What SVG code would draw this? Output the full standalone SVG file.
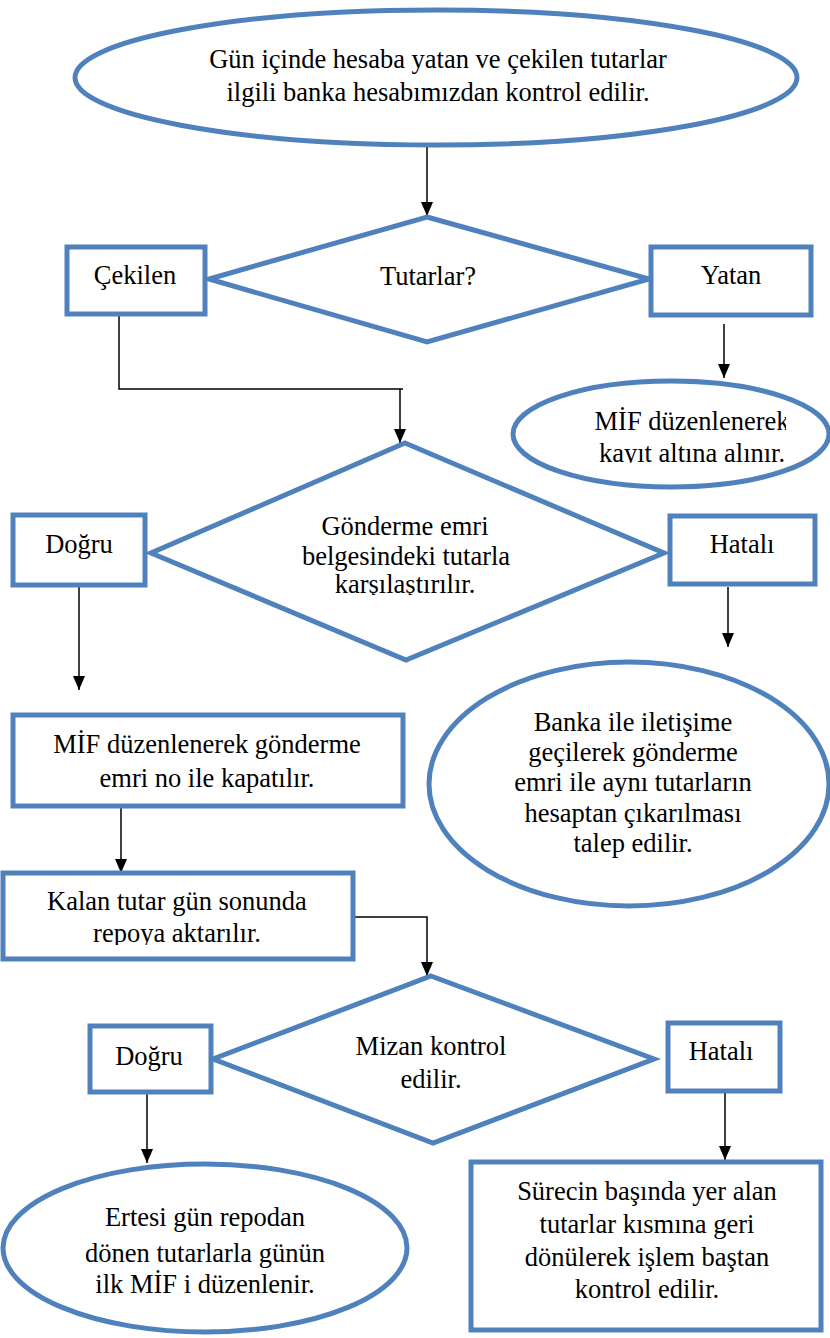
<svg xmlns="http://www.w3.org/2000/svg" width="830" height="1338" viewBox="0 0 830 1338">
<style>
.shape{fill:#fff;stroke:#4F81BD;stroke-width:5}
.t{font-size:26.5px;fill:#000;text-anchor:middle}
.c{fill:none;stroke:#000;stroke-width:1.5}
</style>
<defs>
<marker id="ah" viewBox="0 0 14 12" refX="14" refY="6" markerWidth="14" markerHeight="12" markerUnits="userSpaceOnUse" orient="auto">
<path d="M0,0 L14,6 L0,12 z" fill="#000"/>
</marker>
<clipPath id="clipMif"><rect x="512" y="385" width="274" height="78"/></clipPath>
<clipPath id="clipGon"><rect x="150" y="445" width="515" height="150"/></clipPath>
<clipPath id="clipKalan"><rect x="2" y="873" width="351" height="72"/></clipPath>
<clipPath id="clipErt"><rect x="3" y="1164" width="404" height="132"/></clipPath>
</defs>
<rect width="830" height="1338" fill="#fff"/>

<g id="connectors">
<path class="c" d="M427,147 V216" marker-end="url(#ah)"/>
<path class="c" d="M119,313 V389 H403"/>
<path class="c" d="M400,389 V443" marker-end="url(#ah)"/>
<path class="c" d="M724,324 V378" marker-end="url(#ah)"/>
<path class="c" d="M79,585 V690" marker-end="url(#ah)"/>
<path class="c" d="M728,587 V647" marker-end="url(#ah)"/>
<path class="c" d="M121,806 V873" marker-end="url(#ah)"/>
<path class="c" d="M353,917 H427 V976" marker-end="url(#ah)"/>
<path class="c" d="M147,1094 V1163" marker-end="url(#ah)"/>
<path class="c" d="M725,1091 V1160" marker-end="url(#ah)"/>
</g>

<g font-family="Liberation Serif, Times New Roman, Times, DejaVu Serif, serif">
<g id="start">
<ellipse class="shape" cx="436" cy="77.5" rx="361" ry="67.5"/>
<text class="t" x="438" y="68">Gün içinde hesaba yatan ve çekilen tutarlar</text>
<text class="t" x="438" y="101">ilgili banka hesabımızdan kontrol edilir.</text>
</g>

<g id="decision1">
<polygon class="shape" points="427,217 649,279 427,342 209,279"/>
<text class="t" x="428" y="285">Tutarlar?</text>
</g>

<g id="cekilen">
<rect class="shape" x="67" y="247" width="138" height="67"/>
<text class="t" x="135" y="284">Çekilen</text>
</g>

<g id="yatan">
<rect class="shape" x="651" y="247" width="160" height="68"/>
<text class="t" x="731" y="284">Yatan</text>
</g>

<g id="mif-kayit">
<ellipse class="shape" cx="671" cy="434" rx="158" ry="53"/>
<g clip-path="url(#clipMif)">
<text class="t" x="692" y="430">MİF düzenlenerek</text>
<text class="t" x="692" y="462">kayıt altına alınır.</text>
</g>
</g>

<g id="decision2">
<polygon class="shape" points="405,443 664,553 406,660 151,553"/>
<g clip-path="url(#clipGon)">
<text class="t" x="405" y="535">Gönderme emri</text>
<text class="t" x="406" y="565">belgesindeki tutarla</text>
<text class="t" x="405" y="593">karşılaştırılır.</text>
</g>
</g>

<g id="dogru1">
<rect class="shape" x="13" y="515" width="132" height="70"/>
<text class="t" x="79" y="553">Doğru</text>
</g>

<g id="hatali1">
<rect class="shape" x="670" y="516" width="145" height="68"/>
<text class="t" x="742" y="553">Hatalı</text>
</g>

<g id="banka">
<ellipse class="shape" cx="629" cy="784" rx="200" ry="122"/>
<text class="t" x="633" y="731">Banka ile iletişime</text>
<text class="t" x="633" y="761">geçilerek gönderme</text>
<text class="t" x="633" y="791">emri ile aynı tutarların</text>
<text class="t" x="633" y="822">hesaptan çıkarılması</text>
<text class="t" x="633" y="852">talep edilir.</text>
</g>

<g id="mif-gonderme">
<rect class="shape" x="13" y="715" width="390" height="91"/>
<text class="t" x="207" y="753">MİF düzenlenerek gönderme</text>
<text class="t" x="207" y="787">emri no ile kapatılır.</text>
</g>

<g id="kalan">
<rect class="shape" x="3" y="873" width="350" height="86"/>
<g clip-path="url(#clipKalan)">
<text class="t" x="177" y="910">Kalan tutar gün sonunda</text>
<text class="t" x="177" y="942">repoya aktarılır.</text>
</g>
</g>

<g id="decision3">
<polygon class="shape" points="431,976 654,1059 433,1143 213,1059"/>
<text class="t" x="431" y="1055">Mizan kontrol</text>
<text class="t" x="431" y="1088">edilir.</text>
</g>

<g id="dogru2">
<rect class="shape" x="90" y="1026" width="121" height="66"/>
<text class="t" x="149" y="1065">Doğru</text>
</g>

<g id="hatali2">
<rect class="shape" x="668" y="1023" width="112" height="68"/>
<text class="t" x="721" y="1060">Hatalı</text>
</g>

<g id="ertesi">
<ellipse class="shape" cx="205" cy="1248" rx="202" ry="84"/>
<g clip-path="url(#clipErt)">
<text class="t" x="205" y="1226">Ertesi gün repodan</text>
<text class="t" x="205" y="1262">dönen tutarlarla günün</text>
<text class="t" x="205" y="1293">ilk MİF i düzenlenir.</text>
</g>
</g>

<g id="surecin">
<rect class="shape" x="471" y="1162" width="350" height="168"/>
<text class="t" x="647" y="1200">Sürecin başında yer alan</text>
<text class="t" x="647" y="1233">tutarlar kısmına geri</text>
<text class="t" x="647" y="1266">dönülerek işlem baştan</text>
<text class="t" x="647" y="1298">kontrol edilir.</text>
</g>
</g>
</svg>
